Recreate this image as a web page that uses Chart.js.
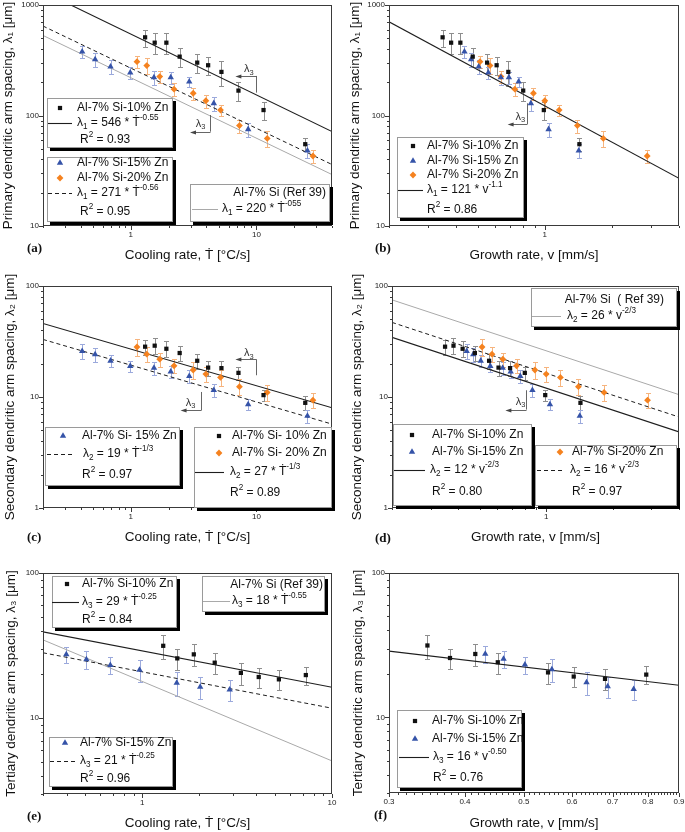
<!DOCTYPE html>
<html>
<head>
<meta charset="utf-8">
<script src="https://cdn.jsdelivr.net/npm/chart.js@4.4.1/dist/chart.umd.min.js"></script>
<style>
  body { margin: 0; background: #fff; width: 685px; height: 832px; position: relative; overflow: hidden; }
  canvas { position: absolute; }
</style>
</head>
<body>
<canvas id="pa" width="342" height="272" style="left:0;top:0"></canvas>
<canvas id="pb" width="343" height="272" style="left:342px;top:0"></canvas>
<canvas id="pc" width="342" height="276" style="left:0;top:272px"></canvas>
<canvas id="pd" width="343" height="276" style="left:342px;top:272px"></canvas>
<canvas id="pe" width="342" height="284" style="left:0;top:548px"></canvas>
<canvas id="pf" width="343" height="284" style="left:342px;top:548px"></canvas>
<script>
const FONT = "'Liberation Sans', 'DejaVu Sans', Arial, sans-serif";

// alloys
const alloys = ['Al-7% Si-10% Zn', 'Al-7% Si-15% Zn', 'Al-7% Si-20% Zn'];

// cooling rate [°C/s] per alloy
const cool10 = [1.30, 1.55, 1.92, 2.45, 3.38, 4.13, 5.27, 7.2, 11.4, 24.5];
const cool15 = [0.41, 0.52, 0.69, 0.99, 1.53, 2.08, 2.92, 4.58, 8.6, 25.5];
const cool20 = [1.12, 1.34, 1.70, 2.21, 3.14, 3.96, 5.18, 7.33, 12.2, 28.2];
// growth rate [mm/s] per alloy
const grow10 = [0.348, 0.380, 0.418, 0.475, 0.551, 0.608, 0.686, 0.800, 0.99, 1.43];
const grow15 = [0.436, 0.467, 0.505, 0.558, 0.635, 0.69, 0.763, 0.866, 1.04, 1.42];
const grow20 = [0.512, 0.568, 0.636, 0.734, 0.889, 1.0, 1.16, 1.40, 1.83, 2.88];

// primary spacing lambda1 [um] and error
const lam1_10 = [510, 456, 456, 341, 301, 285, 248, 168, 112, 55];
const err1_10 = [90, 98, 98, 65, 57, 52, 64, 34, 21, 7];
const lam1_15 = [378, 322, 277, 244, 221, 221, 202, 129, 75, 48];
const err1_15 = [48, 45, 38, 28, 32, 27, 22, 19, 11, 7];
const lam1_20 = [307, 283, 225, 173, 159, 136, 112, 81, 62, 43];
const err1_20 = [40, 45, 28, 22, 20, 18, 13, 11, 10, 6];

// secondary spacing lambda2 [um] and error
const lam2_10 = [28.4, 29.0, 27.2, 24.9, 21.2, 18.4, 18.2, 16.5, 10.4, 8.86];
const err2_10 = [4.5, 4.8, 4.5, 4.0, 3.2, 2.8, 2.8, 2.2, 1.2, 1.3];
const lam2_15 = [25.9, 24.2, 21.2, 19.0, 18.3, 16.9, 15.4, 11.5, 8.56, 6.76];
const err2_15 = [4, 3.5, 2.5, 2.3, 2.5, 2.2, 2, 1.6, 1, 0.9];
const lam2_20 = [28.2, 24.3, 21.9, 19.1, 17.5, 16.1, 15.0, 12.4, 11.0, 9.36];
const err2_20 = [4.8, 3.8, 3.2, 2.8, 3, 2.5, 2.5, 2, 1.8, 1.4];

// tertiary spacing lambda3 [um] (only 10% and 15% Zn)
const cool3_10 = [1.29, 1.53, 1.87, 2.41, 3.31, 4.11, 5.25, 7.28];
const cool3_15 = [0.398, 0.508, 0.679, 0.968, 1.52, 2.02, 2.89];
const grow3_10 = [0.347, 0.378, 0.416, 0.453, 0.548, 0.604, 0.680, 0.795];
const grow3_15 = [0.432, 0.463, 0.502, 0.556, 0.634, 0.687, 0.758];
const lam3_10 = [31.5, 25.8, 27.5, 24.1, 20.5, 19.2, 18.5, 19.8];
const err3_10 = [6, 4.2, 4.8, 4, 3.5, 3, 3, 2.8];
const lam3_15 = [27.5, 25.4, 23.2, 21.5, 17.5, 16.4, 15.7];
const err3_15 = [3.5, 3.5, 3.2, 3.8, 3.2, 2.8, 2.5];

// fit lines, end points [x, y]
const fit1_10c = [[0.333, 1000], [40, 71.5]];
const fit1_1520c = [[0.2, 645], [40, 36]];
const fit1_ref = [[0.2, 530], [40, 29.2]];
const fit1_v = [[0.2, 705], [4, 27]];
const fit2_1020c = [[0.2, 46], [40, 8.0]];
const fit2_15c = [[0.2, 33], [40, 5.7]];
const fit2_ref = [[0.2, 75], [4, 10.5]];
const fit2_1015v = [[0.2, 34.5], [4, 4.85]];
const fit2_20v = [[0.2, 47], [4, 6.6]];
const fit3_10c = [[0.3, 39.3], [10, 16.3]];
const fit3_15c = [[0.3, 28.2], [10, 11.7]];
const fit3_ref = [[0.3, 34.6], [10, 5.07]];
const fit3_v = [[0.3, 28.8], [0.9, 16.7]];

// tick labels
const ticksY1 = [10, 100, 1000];
const ticksY2 = [1, 10, 100];
const ticksY3 = [10, 100];
const ticksCool = [1, 10];
const ticksGrow = [1];
const ticksGrow3 = [0.3, 0.4, 0.5, 0.6, 0.7, 0.8, 0.9];

const MARK = {
  k: { pointStyle: 'rect', r: 3.0, color: '#111111', err: '#8e8e8e' },
  b: { pointStyle: 'triangle', r: 3.7, color: '#3553a8', err: '#9ba9dc' },
  o: { pointStyle: 'rectRot', r: 3.4, color: '#f5821f', err: '#f6b47e' }
};
const LINE = {
  solid: { c: '#1e1e1e', w: 1.1, d: [] },
  dash: { c: '#1e1e1e', w: 1, d: [4, 3] },
  ref: { c: '#a9a9a9', w: 1, d: [] }
};

function series(kind, xs, ys, es) {
  const m = MARK[kind];
  return {
    data: xs.map((x, i) => ({ x: x, y: ys[i] })), errs: es, errColor: m.err,
    pointStyle: m.pointStyle, pointRadius: m.r, pointHoverRadius: m.r,
    backgroundColor: m.color, borderColor: m.color, borderWidth: 0
  };
}
function fit(kind, ends) {
  const l = LINE[kind];
  return {
    data: ends.map(p => ({ x: p[0], y: p[1] })), showLine: true, pointRadius: 0,
    borderColor: l.c, borderWidth: l.w, borderDash: l.d, fill: false
  };
}

function eq(n, coef, base, ex) { return ['λ', ['sub', n], ' = ' + coef + ' * ' + base, ['sup', ex]]; }
function r2(v) { return ['R', ['sup', '2'], ' = ' + v]; }

function logMinors(min, max) {
  const out = [];
  for (let e = Math.floor(Math.log10(min)); e <= Math.ceil(Math.log10(max)); e++) {
    for (let m = 1; m < 10; m++) {
      const v = m * Math.pow(10, e);
      if (v >= min * 0.999 && v <= max * 1.001) out.push(v);
    }
  }
  return out;
}
function stepMinors(min, max, step) {
  const out = [];
  for (let i = 0; min + i * step <= max + 1e-9; i++) out.push(min + i * step);
  return out;
}

// per panel extras (absolute page coords for boxes and labels)
const PANELS = {
  pa: { ox: 0, oy: 0, label: ['(a)', 27, 249],
    arrows: [
      { x: 10, y0: 228, y1: 161, xEnd: 6.8, at: 'top', lx: 8.7, ly: 262 },
      { x: 4.26, y0: 101, y1: 71.4, xEnd: 2.96, at: 'bottom', lx: 3.6, ly: 84 }
    ],
    boxes: [
      { x: 47, y: 98, w: 126, h: 50, items: [
        ['m', 'k', 60, 108], ['t', 77, 108, alloys[0]],
        ['l', 'solid', 48, 72, 123], ['t', 77, 123, eq('1', '546', 'Ṫ', '-0.55')],
        ['t', 80, 140, r2('0.93')] ] },
      { x: 47, y: 157, w: 126, h: 65, items: [
        ['m', 'b', 60, 163], ['t', 77, 163, alloys[1]],
        ['m', 'o', 60, 178], ['t', 77, 178, alloys[2]],
        ['l', 'dash', 48, 72, 193], ['t', 77, 193, eq('1', '271', 'Ṫ', '-0.56')],
        ['t', 80, 212, r2('0.95')] ] },
      { x: 190, y: 184, w: 140, h: 38, items: [
        ['tr', 326, 193, 'Al-7% Si (Ref 39)'],
        ['l', 'ref', 192, 218, 209], ['t', 222, 209, eq('1', '220', 'Ṫ', '-055')] ] }
    ] },
  pb: { ox: 342, oy: 0, label: ['(b)', 375, 249],
    arrows: [ { x: 0.831, y0: 129, y1: 83.8, xEnd: 0.681, at: 'bottom', lx: 0.776, ly: 97 } ],
    boxes: [
      { x: 397, y: 137, w: 127, h: 81, items: [
        ['m', 'k', 413, 146], ['t', 427, 146, alloys[0]],
        ['m', 'b', 413, 161], ['t', 427, 161, alloys[1]],
        ['m', 'o', 413, 175], ['t', 427, 175, alloys[2]],
        ['l', 'solid', 398, 423, 190], ['t', 427, 190, eq('1', '121', 'v', '-1.1')],
        ['t', 427, 210, r2('0.86')] ] }
    ] },
  pc: { ox: 0, oy: 272, label: ['(c)', 27, 538],
    arrows: [
      { x: 10, y0: 21.8, y1: 15.7, xEnd: 6.8, at: 'top', lx: 8.7, ly: 24.8 },
      { x: 3.6, y0: 11.1, y1: 7.6, xEnd: 2.49, at: 'bottom', lx: 2.99, ly: 8.9 }
    ],
    boxes: [
      { x: 45, y: 427, w: 135, h: 59, items: [
        ['m', 'b', 63, 436], ['t', 82, 436, 'Al-7% Si- 15% Zn'],
        ['l', 'dash', 47, 75, 454], ['t', 83, 454, eq('2', '19', 'Ṫ', '-1/3')],
        ['t', 82, 475, r2('0.97')] ] },
      { x: 194, y: 427, w: 138, h: 81, items: [
        ['m', 'k', 219, 436], ['t', 232, 436, 'Al-7% Si- 10% Zn'],
        ['m', 'o', 219, 453], ['t', 232, 453, 'Al-7% Si- 20% Zn'],
        ['l', 'solid', 195, 224, 472], ['t', 230, 472, eq('2', '27', 'Ṫ', '-1/3')],
        ['t', 230, 493, r2('0.89')] ] }
    ] },
  pd: { ox: 342, oy: 272, label: ['(d)', 375, 539],
    arrows: [ { x: 0.811, y0: 11.5, y1: 7.7, xEnd: 0.653, at: 'bottom', lx: 0.765, ly: 9.0 } ],
    boxes: [
      { x: 531, y: 288, w: 146, h: 39, items: [
        ['tr', 664, 300, 'Al-7% Si  ( Ref 39)'],
        ['l', 'ref', 532, 561, 316], ['t', 567, 316, eq('2', '26', 'v', '-2/3')] ] },
      { x: 393, y: 424, w: 139, h: 82, items: [
        ['m', 'k', 412, 435], ['t', 432, 435, alloys[0]],
        ['m', 'b', 412, 452], ['t', 432, 452, alloys[1]],
        ['l', 'solid', 394, 425, 470], ['t', 430, 470, eq('2', '12', 'v', '-2/3')],
        ['t', 432, 492, r2('0.80')] ] },
      { x: 535, y: 445, w: 142, h: 61, items: [
        ['m', 'o', 560, 452], ['t', 572, 452, alloys[2]],
        ['l', 'dash', 537, 564, 470], ['t', 570, 470, eq('2', '16', 'v', '-2/3')],
        ['t', 572, 492, r2('0.97')] ] }
    ] },
  pe: { ox: 0, oy: 548, label: ['(e)', 27, 817], arrows: [],
    boxes: [
      { x: 52, y: 576, w: 125, h: 52, items: [
        ['m', 'k', 67, 584], ['t', 82, 584, alloys[0]],
        ['l', 'solid', 52, 79, 602], ['t', 82, 602, eq('3', '29', 'Ṫ', '-0.25')],
        ['t', 82, 620, r2('0.84')] ] },
      { x: 202, y: 576, w: 123, h: 36, items: [
        ['tr', 323, 585, 'Al-7% Si (Ref 39)'],
        ['l', 'ref', 203, 230, 601], ['t', 232, 601, eq('3', '18', 'Ṫ', '-0.55')] ] },
      { x: 49, y: 737, w: 124, h: 50, items: [
        ['m', 'b', 65, 743], ['t', 80, 743, alloys[1]],
        ['l', 'dash', 50, 77, 761], ['t', 80, 761, eq('3', '21', 'Ṫ', '-0.25')],
        ['t', 80, 779, r2('0.96')] ] }
    ] },
  pf: { ox: 342, oy: 548, label: ['(f)', 374, 816], arrows: [],
    boxes: [
      { x: 397, y: 710, w: 125, h: 78, items: [
        ['m', 'k', 415, 721], ['t', 432, 721, alloys[0]],
        ['m', 'b', 415, 739], ['t', 432, 739, alloys[1]],
        ['l', 'solid', 399, 429, 757], ['t', 433, 757, eq('3', '16', 'v', '-0.50')],
        ['t', 433, 778, r2('0.76')] ] }
    ] }
};

function rich(ctx, x, y, parts, size, align) {
  const list = typeof parts === 'string' ? [parts] : parts;
  const seg = list.map(p => {
    if (Array.isArray(p)) {
      const fs = size * 0.68;
      return { s: p[1], fs: fs, dy: p[0] === 'sub' ? size * 0.3 : -size * 0.4 };
    }
    return { s: p, fs: size, dy: 0 };
  });
  if (align) {
    let w = 0;
    seg.forEach(g => { ctx.font = g.fs + 'px ' + FONT; w += ctx.measureText(g.s).width; });
    x -= align === 'center' ? w / 2 : w;
  }
  ctx.textBaseline = 'middle';
  ctx.textAlign = 'left';
  seg.forEach(g => {
    ctx.font = g.fs + 'px ' + FONT;
    ctx.fillText(g.s, x, y + g.dy);
    x += ctx.measureText(g.s).width;
  });
}

const panelPlugin = {
  id: 'panelDeco',
  beforeDatasetsDraw(chart) {
    const ctx = chart.ctx, xs = chart.scales.x, ys = chart.scales.y;
    chart.data.datasets.forEach(ds => {
      if (!ds.errs) return;
      ctx.save();
      ctx.strokeStyle = ds.errColor;
      ctx.lineWidth = 1;
      ctx.beginPath();
      ds.data.forEach((p, i) => {
        const px = Math.round(xs.getPixelForValue(p.x)) + 0.5;
        const e = ds.errs[i];
        const top = Math.round(ys.getPixelForValue(p.y + e)) + 0.5;
        const bot = Math.round(ys.getPixelForValue(p.y - e)) + 0.5;
        ctx.moveTo(px, top); ctx.lineTo(px, bot);
        ctx.moveTo(px - 2.5, top); ctx.lineTo(px + 2.5, top);
        ctx.moveTo(px - 2.5, bot); ctx.lineTo(px + 2.5, bot);
      });
      ctx.stroke();
      ctx.restore();
    });
  },
  afterDatasetsDraw(chart) {
    const cfg = PANELS[chart.canvas.id];
    const ctx = chart.ctx, ca = chart.chartArea, xs = chart.scales.x, ys = chart.scales.y;
    ctx.save();
    // frame
    ctx.strokeStyle = '#3a3a3a';
    ctx.lineWidth = 1;
    ctx.strokeRect(Math.round(ca.left) + 0.5, Math.round(ca.top) + 0.5,
      Math.round(ca.right - ca.left) - 1, Math.round(ca.bottom - ca.top) - 1);
    // tick marks
    const xb = Math.round(ca.bottom), yl = Math.round(ca.left);
    ctx.beginPath();
    chart.$minorX.forEach(v => { const p = Math.round(xs.getPixelForValue(v)) + 0.5; ctx.moveTo(p, xb); ctx.lineTo(p, xb + 2); });
    chart.$majorX.forEach(v => { const p = Math.round(xs.getPixelForValue(v)) + 0.5; ctx.moveTo(p, xb); ctx.lineTo(p, xb + 4); });
    chart.$minorY.forEach(v => { const p = Math.round(ys.getPixelForValue(v)) + 0.5; ctx.moveTo(yl, p); ctx.lineTo(yl - 2, p); });
    chart.$majorY.forEach(v => { const p = Math.round(ys.getPixelForValue(v)) + 0.5; ctx.moveTo(yl, p); ctx.lineTo(yl - 4, p); });
    ctx.stroke();
    // lambda3 arrows
    cfg.arrows.forEach(a => {
      const x = Math.round(xs.getPixelForValue(a.x)) + 0.5;
      const y0 = ys.getPixelForValue(a.y0), y1 = ys.getPixelForValue(a.y1);
      const xe = xs.getPixelForValue(a.xEnd);
      const yh = Math.round(a.at === 'top' ? y0 : y1) + 0.5;
      ctx.strokeStyle = '#555';
      ctx.lineWidth = 0.9;
      ctx.beginPath();
      ctx.moveTo(x, y0); ctx.lineTo(x, y1);
      ctx.moveTo(x, yh); ctx.lineTo(xe + 4, yh);
      ctx.stroke();
      ctx.fillStyle = '#444';
      ctx.beginPath();
      ctx.moveTo(xe, yh); ctx.lineTo(xe + 6, yh - 2); ctx.lineTo(xe + 6, yh + 2); ctx.closePath();
      ctx.fill();
      ctx.fillStyle = '#333';
      rich(ctx, xs.getPixelForValue(a.lx), ys.getPixelForValue(a.ly), ['λ', ['sub', '3']], 11, 'center');
    });
    // legend boxes
    cfg.boxes.forEach(b => {
      const bx = b.x - cfg.ox, by = b.y - cfg.oy;
      ctx.fillStyle = '#000';
      ctx.fillRect(bx + 3, by + 3, b.w, b.h);
      ctx.fillStyle = '#fff';
      ctx.fillRect(bx, by, b.w, b.h);
      ctx.strokeStyle = '#9a9a9a';
      ctx.lineWidth = 1;
      ctx.strokeRect(bx + 0.5, by + 0.5, b.w - 1, b.h - 1);
      b.items.forEach(it => {
        if (it[0] === 'm') {
          const m = MARK[it[1]];
          ctx.fillStyle = m.color;
          Chart.helpers.drawPoint(ctx, { pointStyle: m.pointStyle, radius: m.r, rotation: 0, borderWidth: 0 },
            it[2] - cfg.ox, it[3] - cfg.oy);
        } else if (it[0] === 'l') {
          const l = LINE[it[1]];
          ctx.strokeStyle = l.c;
          ctx.lineWidth = l.w;
          ctx.setLineDash(l.d);
          ctx.beginPath();
          ctx.moveTo(it[2] - cfg.ox, it[4] - cfg.oy + 0.5);
          ctx.lineTo(it[3] - cfg.ox, it[4] - cfg.oy + 0.5);
          ctx.stroke();
          ctx.setLineDash([]);
        } else {
          ctx.fillStyle = '#111';
          rich(ctx, it[1] - cfg.ox, it[2] - cfg.oy, it[3], 12, it[0] === 'tr' ? 'right' : null);
        }
      });
    });
    // panel label
    ctx.fillStyle = '#111';
    ctx.font = "bold 13px 'Liberation Serif', 'DejaVu Serif', serif";
    ctx.textAlign = 'left';
    ctx.textBaseline = 'middle';
    ctx.fillText(cfg.label[0], cfg.label[1] - cfg.ox, cfg.label[2] - cfg.oy);
    ctx.restore();
  }
};

function axis(min, max, labels, title, pad, isX, size) {
  return {
    type: 'logarithmic', min: min, max: max,
    afterBuildTicks: s => { s.ticks = labels.map(v => ({ value: v })); },
    afterFit: s => {
      if (isX) s.height = size; else s.width = size;
      s.paddingLeft = 0; s.paddingRight = 0; s.paddingTop = 0; s.paddingBottom = 0;
    },
    ticks: { callback: v => String(v), font: { family: FONT, size: 8 }, color: '#222',
      padding: 1, maxRotation: 0, minRotation: 0, autoSkip: false },
    grid: { display: false, drawTicks: true, tickLength: 3 },
    border: { display: false },
    title: { display: true, text: title, color: '#111', font: { family: FONT, size: 13.5 },
      padding: isX ? { top: 0, bottom: pad } : { top: pad, bottom: 0 } }
  };
}

function makeChart(id, p) {
  const chart = new Chart(document.getElementById(id), {
    type: 'scatter',
    data: { datasets: p.datasets },
    options: {
      responsive: false, animation: false, events: [],
      layout: { padding: { left: 0, top: p.padTop, right: p.padRight, bottom: 0 } },
      plugins: { legend: { display: false }, tooltip: { enabled: false } },
      scales: {
        x: axis(p.x[0], p.x[1], p.xTicks, p.xTitle, p.xPad, true, p.xH),
        y: axis(p.y[0], p.y[1], p.yTicks, p.yTitle, p.yPad, false, p.yW)
      }
    },
    plugins: [{
      id: 'tickSets',
      beforeInit(c) {
        c.$majorX = p.xTicks; c.$majorY = p.yTicks;
        c.$minorX = p.xMinor; c.$minorY = logMinors(p.y[0], p.y[1]);
      }
    }, panelPlugin]
  });
  return chart;
}

const coolTitle = 'Cooling rate, Ṫ [°C/s]';
const growTitle = 'Growth rate, v [mm/s]';
const t1 = 'Primary dendritic arm spacing, λ₁ [μm]';
const t2 = 'Secondary dendritic arm spacing, λ₂ [μm]';
const t3 = 'Tertiary dendritic arm spacing, λ₃ [μm]';

makeChart('pa', {
  x: [0.2, 40], y: [10, 1000], xTicks: ticksCool, yTicks: ticksY1, xMinor: logMinors(0.2, 40),
  xTitle: coolTitle, yTitle: t1, xPad: 8.9, yPad: 0, xH: 46, yW: 43, padTop: 5, padRight: 10,
  datasets: [
    series('k', cool10, lam1_10, err1_10), series('b', cool15, lam1_15, err1_15), series('o', cool20, lam1_20, err1_20),
    fit('solid', fit1_10c), fit('dash', fit1_1520c), fit('ref', fit1_ref)
  ]
});
makeChart('pb', {
  x: [0.2, 4], y: [10, 1000], xTicks: ticksGrow, yTicks: ticksY1, xMinor: logMinors(0.2, 4),
  xTitle: growTitle, yTitle: t1, xPad: 8.9, yPad: 4.9, xH: 46, yW: 47, padTop: 5, padRight: 6,
  datasets: [
    series('k', grow10, lam1_10, err1_10), series('b', grow15, lam1_15, err1_15), series('o', grow20, lam1_20, err1_20),
    fit('solid', fit1_v)
  ]
});
makeChart('pc', {
  x: [0.2, 40], y: [1, 100], xTicks: ticksCool, yTicks: ticksY2, xMinor: logMinors(0.2, 40),
  xTitle: coolTitle, yTitle: t2, xPad: 2.9, yPad: 2.2, xH: 40, yW: 43, padTop: 14, padRight: 10,
  datasets: [
    series('k', cool10, lam2_10, err2_10), series('b', cool15, lam2_15, err2_15), series('o', cool20, lam2_20, err2_20),
    fit('solid', fit2_1020c), fit('dash', fit2_15c)
  ]
});
makeChart('pd', {
  x: [0.2, 4], y: [1, 100], xTicks: ticksGrow, yTicks: ticksY2, xMinor: logMinors(0.2, 4),
  xTitle: growTitle, yTitle: t2, xPad: 2.9, yPad: 7, xH: 40, yW: 50, padTop: 14, padRight: 6,
  datasets: [
    series('k', grow10, lam2_10, err2_10), series('b', grow15, lam2_15, err2_15), series('o', grow20, lam2_20, err2_20),
    fit('ref', fit2_ref), fit('solid', fit2_1015v), fit('dash', fit2_20v)
  ]
});
makeChart('pe', {
  x: [0.3, 10], y: [3, 100], xTicks: ticksCool, yTicks: ticksY3, xMinor: logMinors(0.3, 10),
  xTitle: coolTitle, yTitle: t3, xPad: 0.9, yPad: 3.6, xH: 38, yW: 43, padTop: 25, padRight: 10,
  datasets: [
    series('k', cool3_10, lam3_10, err3_10), series('b', cool3_15, lam3_15, err3_15),
    fit('solid', fit3_10c), fit('dash', fit3_15c), fit('ref', fit3_ref)
  ]
});
makeChart('pf', {
  x: [0.3, 0.9], y: [3, 100], xTicks: ticksGrow3, yTicks: ticksY3, xMinor: stepMinors(0.3, 0.9, 0.01),
  xTitle: growTitle, yTitle: t3, xPad: 0.9, yPad: 8, xH: 39, yW: 47, padTop: 25, padRight: 6,
  datasets: [
    series('k', grow3_10, lam3_10, err3_10), series('b', grow3_15, lam3_15, err3_15),
    fit('solid', fit3_v)
  ]
});
</script>
</body>
</html>
